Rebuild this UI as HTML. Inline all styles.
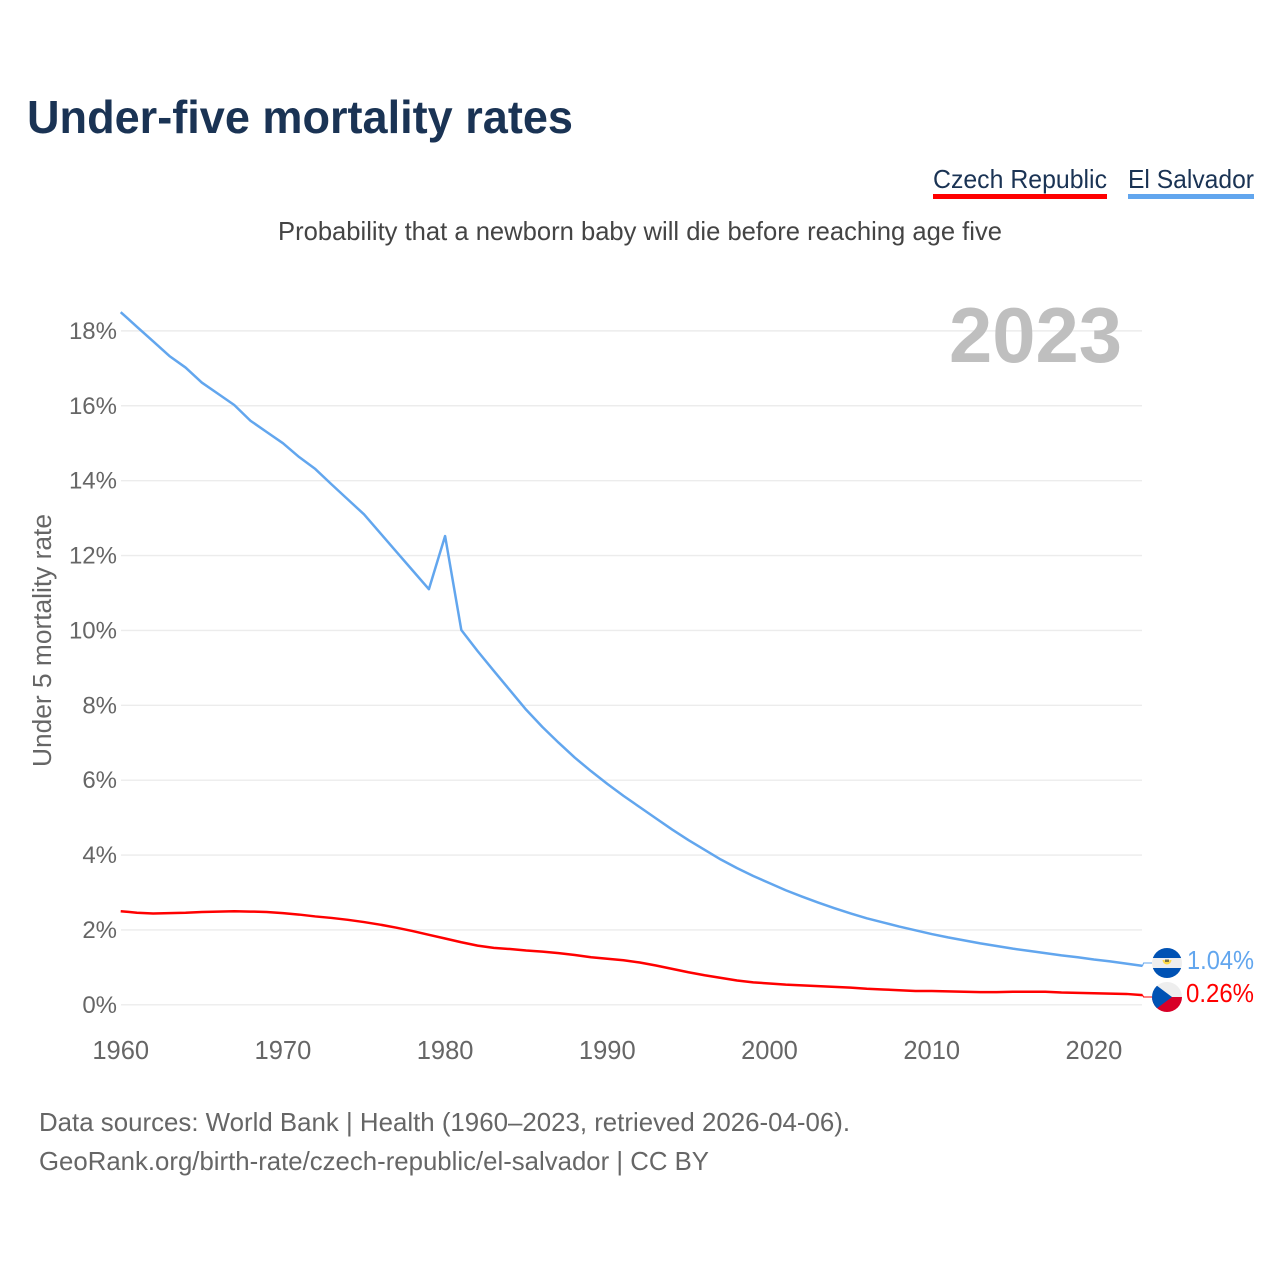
<!DOCTYPE html>
<html lang="en">
<head>
<meta charset="utf-8">
<title>Under-five mortality rates</title>
<style>
html,body{margin:0;padding:0;background:#fff}
svg{display:block}
text{font-family:"Liberation Sans",sans-serif}
</style>
</head>
<body>
<svg id="chart" xmlns="http://www.w3.org/2000/svg" width="1280" height="1280" viewBox="0 0 1280 1280">
  <defs>
    <clipPath id="clip-sv"><circle cx="1167" cy="963" r="15"/></clipPath>
    <clipPath id="clip-cz"><circle cx="1167" cy="997" r="15"/></clipPath>
  </defs>
  <rect x="0" y="0" width="1280" height="1280" fill="#fff"/>
  <text x="27" y="133" font-size="46" font-weight="700" fill="#1a3354" textLength="546" lengthAdjust="spacingAndGlyphs">Under-five mortality rates</text>

  <g>
    <text x="933" y="188" font-size="26" fill="#1a3354" textLength="174" lengthAdjust="spacingAndGlyphs">Czech Republic</text>
    <rect x="933" y="194" width="174" height="5" fill="#ff0000"/>
  </g>
  <g>
    <text x="1128" y="188" font-size="26" fill="#1a3354" textLength="126" lengthAdjust="spacingAndGlyphs">El Salvador</text>
    <rect x="1128" y="194" width="126" height="5" fill="#62a6ee"/>
  </g>

  <text x="278" y="240" font-size="26" fill="#444" textLength="724" lengthAdjust="spacingAndGlyphs">Probability that a newborn baby will die before reaching age five</text>

  <g id="grid"></g>
  <g id="yticks"></g>
  <g id="xticks"></g>

  <text x="949" y="362" font-size="78" font-weight="700" fill="#bfbfbf" textLength="173" lengthAdjust="spacingAndGlyphs">2023</text>

  <text transform="translate(51,767) rotate(-90)" x="0" y="0" font-size="25.5" fill="#666" textLength="253" lengthAdjust="spacingAndGlyphs">Under 5 mortality rate</text>

  <g id="series"></g>

  <g>
    <g clip-path="url(#clip-sv)">
      <rect x="1152" y="948" width="30" height="30" fill="#eeeeee"/>
      <rect x="1152" y="948" width="30" height="10" fill="#0052b4"/>
      <rect x="1152" y="968" width="30" height="10" fill="#0052b4"/>
    </g>
    <path d="M1162.5 960 A4.5 4.5 0 0 0 1171.5 960 L1169.5 960 L1169 962 L1165 962 L1164.5 960 Z" fill="#ffda44"/>
    <rect x="1165" y="959.5" width="4" height="2.5" fill="#7a7440"/>
  </g>
  <g>
    <g clip-path="url(#clip-cz)">
      <rect x="1152" y="982" width="30" height="15" fill="#eeeeee"/>
      <rect x="1152" y="997" width="30" height="15" fill="#d80027"/>
      <polygon points="1152,982 1172,997 1152,1012" fill="#0052b4"/>
    </g>
  </g>

  <text id="label-sv" x="1187" y="969" font-size="25.5" fill="#62a6ee" textLength="67" lengthAdjust="spacingAndGlyphs"></text>
  <text id="label-cz" x="1186" y="1002" font-size="25.5" fill="#ff0000" textLength="68" lengthAdjust="spacingAndGlyphs"></text>

  <text x="39" y="1131" font-size="26" fill="#666" textLength="811" lengthAdjust="spacingAndGlyphs">Data sources: World Bank | Health (1960–2023, retrieved 2026-04-06).</text>
  <text x="39" y="1170" font-size="26" fill="#666" textLength="670" lengthAdjust="spacingAndGlyphs">GeoRank.org/birth-rate/czech-republic/el-salvador | CC BY</text>
</svg>
<script>
const firstYear = 1960;
const xTickYears = [1960, 1970, 1980, 1990, 2000, 2010, 2020];
const yTickValues = [0, 2, 4, 6, 8, 10, 12, 14, 16, 18];
const czechRepublic = [
  2.50, 2.46, 2.44, 2.45, 2.46, 2.48, 2.49, 2.50, 2.49, 2.48,
  2.45, 2.41, 2.36, 2.32, 2.27, 2.21, 2.14, 2.06, 1.97, 1.87,
  1.77, 1.67, 1.58, 1.52, 1.49, 1.45, 1.42, 1.38, 1.33, 1.27,
  1.23, 1.19, 1.13, 1.05, 0.96, 0.87, 0.79, 0.72, 0.65, 0.60,
  0.57, 0.54, 0.52, 0.50, 0.48, 0.46, 0.43, 0.41, 0.39, 0.37,
  0.37, 0.36, 0.35, 0.34, 0.34, 0.35, 0.35, 0.35, 0.33, 0.32,
  0.31, 0.30, 0.29, 0.26
];
const elSalvador = [
  18.50, 18.11, 17.72, 17.33, 17.02, 16.62, 16.32, 16.02, 15.60, 15.30,
  15.00, 14.63, 14.31, 13.90, 13.50, 13.10, 12.60, 12.10, 11.60, 11.10,
  12.52, 10.01, 9.45, 8.92, 8.40, 7.88, 7.42, 7.00, 6.60, 6.24,
  5.90, 5.58, 5.28, 4.98, 4.68, 4.40, 4.14, 3.88, 3.65, 3.44,
  3.25, 3.06, 2.89, 2.73, 2.58, 2.44, 2.31, 2.20, 2.09, 1.99,
  1.89, 1.80, 1.72, 1.64, 1.57, 1.50, 1.44, 1.38, 1.32, 1.27,
  1.21, 1.16, 1.10, 1.04
];

const NS = 'http://www.w3.org/2000/svg';
function xScale(year) { return 120.7 + (year - 1960) * 16.22; }
function yScale(value) { return 1004.8 - value * 37.44; }
function make(tag, attrs, parent) {
  const el = document.createElementNS(NS, tag);
  for (const k in attrs) el.setAttribute(k, attrs[k]);
  parent.appendChild(el);
  return el;
}

const grid = document.getElementById('grid');
const yticks = document.getElementById('yticks');
yTickValues.forEach(function (v) {
  const line = make('line', {x1: 121, x2: 1142, y1: yScale(v), y2: yScale(v), stroke: '#ececec', 'stroke-width': 1.4}, grid);
  
  
  const t = make('text', {x: 117, y: yScale(v) + 8, 'text-anchor': 'end', 'font-size': 24, fill: '#666'}, yticks);
  t.textContent = v + '%';
  
  
});

const xticks = document.getElementById('xticks');
xTickYears.forEach(function (yr) {
  const t = make('text', {x: xScale(yr), y: 1059, 'text-anchor': 'middle', 'font-size': 25.5, fill: '#666'}, xticks);
  t.textContent = String(yr);
  
  
});

const seriesGroup = document.getElementById('series');
function pathFor(values, labelY) {
  const pts = values.map(function (v, i) { return xScale(firstYear + i).toFixed(2) + ',' + yScale(v).toFixed(2); });
  const lastY = yScale(values[values.length - 1]);
  return {
    main: 'M' + pts.join(' L'),
    lastX: xScale(firstYear + values.length - 1),
    lastY: lastY,
    labelY: labelY
  };
}

const blue = pathFor(elSalvador, 963);
const bluePath = make('path', {d: blue.main, fill: 'none', stroke: '#62a6ee', 'stroke-width': 2.5, 'stroke-linejoin': 'round'}, seriesGroup);


const blueLead = make('path', {d: 'M' + blue.lastX + ' ' + blue.lastY + ' L' + (blue.lastX + 1) + ' ' + blue.labelY + ' L1152 ' + blue.labelY, fill: 'none', stroke: '#62a6ee', 'stroke-width': 1}, seriesGroup);



const red = pathFor(czechRepublic, 997);
const redPath = make('path', {d: red.main, fill: 'none', stroke: '#ff0000', 'stroke-width': 2.5, 'stroke-linejoin': 'round'}, seriesGroup);


const redLead = make('path', {d: 'M' + red.lastX + ' ' + red.lastY + ' L' + (red.lastX + 1) + ' ' + red.labelY + ' L1152 ' + red.labelY, fill: 'none', stroke: '#ff0000', 'stroke-width': 1}, seriesGroup);



document.getElementById('label-sv').textContent = elSalvador[elSalvador.length - 1].toFixed(2) + '%';
document.getElementById('label-cz').textContent = czechRepublic[czechRepublic.length - 1].toFixed(2) + '%';
</script>
</body>
</html>
